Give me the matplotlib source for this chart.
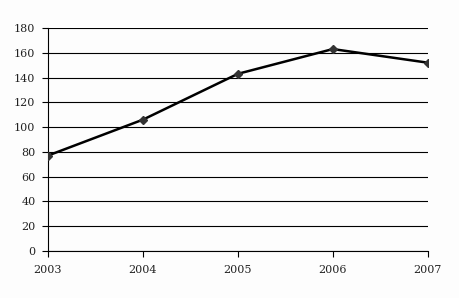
import matplotlib

matplotlib.use("Agg")
import matplotlib.pyplot as plt  # noqa: E402

years = [2003, 2004, 2005, 2006, 2007]
values = [77, 106, 143, 163, 152]
y_ticks = [0, 20, 40, 60, 80, 100, 120, 140, 160, 180]

BG = "#fdfdfd"
INK = "#000000"

fig = plt.figure(figsize=(4.6, 2.98), dpi=100)
fig.patch.set_facecolor(BG)
ax = fig.add_axes([0.1043, 0.158, 0.8257, 0.748])
ax.set_facecolor(BG)

ax.plot(years, values, color=INK, linewidth=1.8, marker="D", markersize=4.5,
        markerfacecolor="#333333", markeredgecolor="#333333", zorder=3)

ax.set_xlim(years[0], years[-1])
ax.set_ylim(0, 180)
ax.set_xticks(years)
ax.set_yticks(y_ticks)
ax.grid(True, axis="y", color=INK, linewidth=0.8)
ax.set_axisbelow(True)

for side in ("top", "right"):
    ax.spines[side].set_visible(False)
for side in ("left", "bottom"):
    ax.spines[side].set_color(INK)
    ax.spines[side].set_linewidth(0.8)

ax.tick_params(direction="out", length=4, width=0.8, colors=INK, labelsize=8, pad=6)
ax.tick_params(axis="y", pad=5)
for lbl in ax.get_xticklabels() + ax.get_yticklabels():
    lbl.set_fontfamily("DejaVu Serif")
    lbl.set_color("#222222")

fig.savefig("out.png", dpi=100, facecolor=fig.get_facecolor())
